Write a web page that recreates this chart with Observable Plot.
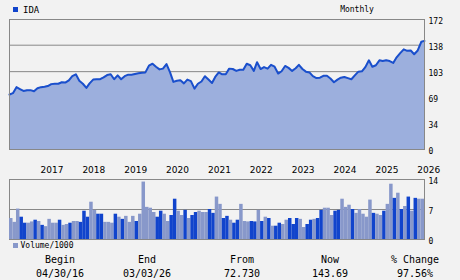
<!DOCTYPE html>
<html><head><meta charset="utf-8">
<script src="https://cdn.jsdelivr.net/npm/d3@7"></script>
<script src="https://cdn.jsdelivr.net/npm/@observablehq/plot@0.6"></script>
<style>
html,body{margin:0;padding:0;background:#f2f2f2;}
#wrap{position:relative;width:460px;height:280px;background:#f2f2f2;overflow:hidden;font-family:"DejaVu Sans Mono",monospace;color:#000;}
.t{position:absolute;white-space:nowrap;line-height:10px;height:10px;}
.c{transform:translateX(-50%);}
.sq{position:absolute;width:5px;height:5px;}
#wrap svg{position:absolute;left:0;}
</style></head><body><div id="wrap"></div>
<script>
const ticker = "IDA";
const period = "Monthly";
const startYear = 2016, startMonth = 4;
const years = [2017, 2018, 2019, 2020, 2021, 2022, 2023, 2024, 2025, 2026];
const priceTicks = [0, 34, 69, 103, 138, 172];
const volumeTicks = [0, 7, 14];
const prices = [72.73,74.5,82.5,80,77.5,78.5,78.5,77,81,82.5,
83,84,86.5,87,87,89,88.5,91.5,97,99.5,
91,87,81.5,87.5,92.5,93,93,95.5,98.5,99.5,
93,98,93,97,99,99,100,101,101.5,102,
111,113.5,109.5,106,107,113,102,89.5,91,91.5,
87.5,92.5,90.5,80.5,87,90,97,92.5,88,96,
102,99.5,99.5,107,106.5,104,105.5,105.5,113.5,111.5,
104,115.5,106.5,109,107,112,109.5,100.5,103.5,110.5,
108,104,107.5,112,106.5,103,102,97,94.5,95,
97.5,97.5,94,89,92.5,95,96,94.5,93,98,
103,103.5,109,118,109.5,111.5,118,117,118,117,
114.5,122,127.5,132.5,130.5,131,126,131,142.5,143.69];
const volumes = [4.9,4.0,7.1,5.2,3.8,3.8,4.1,4.5,4.2,3.3,
3.0,4.7,3.8,3.8,4.5,3.3,3.5,3.8,4.2,4.2,
4.0,6.6,5.2,8.7,6.8,5.9,5.9,4.0,4.0,3.8,
5.9,5.2,4.7,5.4,4.0,5.4,4.2,5.9,13.4,7.5,
7.3,6.3,5.2,6.6,5.9,4.2,5.6,9.4,6.6,5.6,
6.8,4.9,5.6,6.3,6.6,6.3,6.3,7.0,6.1,9.9,
8.2,4.9,5.4,4.5,3.8,4.5,8.2,4.2,4.1,4.2,
4.1,6.8,4.2,5.2,4.9,3.1,3.1,3.8,3.5,4.5,
4.9,3.5,4.9,4.7,2.8,3.5,4.5,4.7,4.9,6.8,
7.3,7.3,5.6,6.6,6.8,9.4,7.5,8.0,7.0,6.1,
7.0,5.9,5.2,9.2,6.1,5.9,5.6,6.6,8.2,12.9,
9.6,10.8,7.0,7.7,9.9,6.6,9.6,9.4,9.4];
const volumeKind = ["lllddlldld","lllldlldll","dddllddlll","dldllldlll","llddllddll",
  "dlddlllddl","lddlddllld","dldldlddll","dddllddldd","lllddllldl",
  "lllldlldll","dldldldll"].join("").split("");
const summaryHeads = ["Begin", "End", "From", "Now", "% Change"];
const summaryVals = ["04/30/16", "03/03/26", "72.730", "143.69", "97.56%"];

const C = {bg:"#f2f2f2", grid:"#888888", area:"#9cafdd", line:"#1a4fcc", dark:"#1144cc", light:"#8898ca"};
const wrap = document.getElementById("wrap");

const dates = prices.map((_, i) => new Date(Date.UTC(startYear, startMonth - 1 + i, 1)));
const pdata = prices.map((p, i) => ({date: dates[i], price: p}));
const yearDates = years.map(y => new Date(Date.UTC(y, 0, 1)));

const price = Plot.plot({
  width: 460, height: 180,
  marginLeft: 9, marginRight: 36, marginTop: 19, marginBottom: 31,
  style: {background: "transparent", fontFamily: "DejaVu Sans Mono", fontSize: "8px", color: "#000", overflow: "visible"},
  x: {type: "utc", domain: [dates[0], dates[dates.length - 1]], axis: null},
  y: {domain: [0, 172], axis: null},
  marks: [
    Plot.ruleY(priceTicks.slice(1, -1), {stroke: C.grid, strokeWidth: 1}),
    Plot.areaY(pdata, {x: "date", y: "price", fill: C.area}),
    Plot.lineY(pdata, {x: "date", y: "price", stroke: C.line, strokeWidth: 2}),
    Plot.frame({stroke: C.grid}),
    Plot.axisX(yearDates, {label: null, tickSize: 0, tickPadding: 17, dx: 11, tickFormat: d => String(d.getUTCFullYear()), fontFamily: "DejaVu Sans", fontSize: 9}),
    Plot.axisY(priceTicks, {label: null, anchor: "right", tickSize: 0, tickPadding: 4, dy: 2, tickFormat: d => String(d)})
  ]
});
price.style.top = "0px";
wrap.appendChild(price);

const vdata = volumes.map((v, i) => ({i, v, k: volumeKind[i] || "l"}));
const vol = Plot.plot({
  width: 460, height: 80,
  marginLeft: 9, marginRight: 36, marginTop: 9, marginBottom: 11,
  style: {background: "transparent", fontFamily: "DejaVu Sans Mono", fontSize: "8px", color: "#000", overflow: "visible"},
  x: {type: "band", domain: d3.range(volumes.length), padding: 0, axis: null},
  y: {domain: [0, 14], axis: null},
  marks: [
    Plot.frame({stroke: C.grid}),
    Plot.ruleY([7], {stroke: C.grid}),
    Plot.barY(vdata, {x: "i", y: "v", fill: d => d.k === "d" ? C.dark : C.light}),
    Plot.axisY(volumeTicks, {label: null, anchor: "right", tickSize: 0, tickPadding: 4, dy: 2, tickFormat: d => String(d)})
  ]
});
vol.style.top = "170px";
wrap.appendChild(vol);

function addText(txt, x, cy, size, center, family) {
  const d = document.createElement("div");
  d.className = "t" + (center ? " c" : "");
  d.textContent = txt;
  d.style.left = x + "px";
  d.style.top = (cy - 5) + "px";
  d.style.fontSize = size + "px";
  if (family) d.style.fontFamily = family;
  wrap.appendChild(d);
}
function addSquare(x, y, color) {
  const s = document.createElement("div");
  s.className = "sq";
  s.style.left = x + "px"; s.style.top = y + "px"; s.style.background = color;
  wrap.appendChild(s);
}
addSquare(13, 7, C.dark);
addText(ticker, 23, 9.5, 9);
addText(period, 357, 9.5, 8, true);
addSquare(13, 243, C.light);
addText("Volume/1000", 20.5, 245.5, 8);
const cols = [60, 147, 242, 330, 415];
summaryHeads.forEach((h, i) => addText(h, cols[i], 259.5, 10, true));
summaryVals.forEach((v, i) => addText(v, cols[i], 273.5, 10, true));
</script></body></html>
